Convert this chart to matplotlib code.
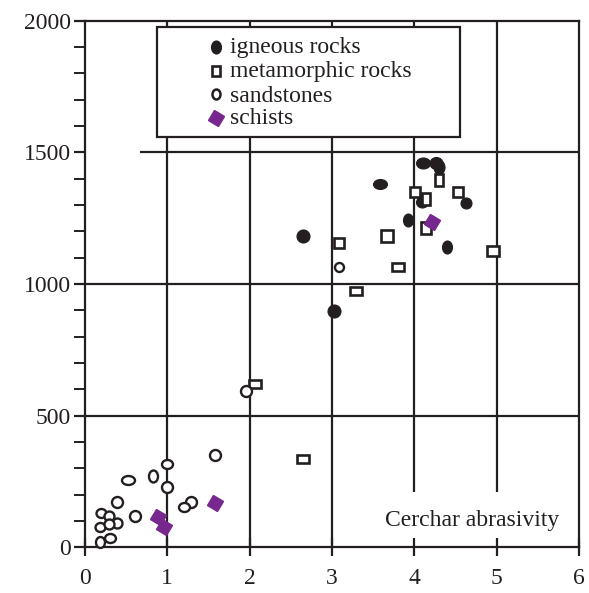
import matplotlib
matplotlib.use('Agg')
import matplotlib.pyplot as plt
from matplotlib.markers import MarkerStyle
from matplotlib.transforms import Affine2D
from matplotlib.patches import Rectangle
from matplotlib.ticker import MultipleLocator

plt.rcParams['font.family'] = ['Liberation Serif', 'DejaVu Serif']

INK = '#231f20'
PURPLE = '#77288f'

# ---- data (Cerchar abrasivity vs. value) ----
igneous_x = [4.10, 4.26, 4.30, 3.58, 4.09, 4.63, 3.92, 4.40, 2.65, 3.03]
igneous_y = [1461, 1458, 1445, 1380, 1310, 1309, 1243, 1142, 1182, 897]

metamorphic_x = [4.30, 4.01, 4.14, 4.53, 4.14, 3.67, 3.08, 4.96, 3.80, 3.29, 2.07, 2.65]
metamorphic_y = [1395, 1348, 1324, 1348, 1212, 1182, 1157, 1125, 1066, 975, 619, 335]

sandstone_x = [3.08, 1.96, 1.58, 1.00, 0.52, 0.82, 1.00, 0.39, 1.29, 1.20, 0.61,
               0.19, 0.29, 0.39, 0.18, 0.29, 0.30, 0.18]
sandstone_y = [1066, 594, 352, 316, 256, 271, 230, 171, 171, 152, 119,
               131, 119, 91, 76, 88, 34, 21]

schist_x = [4.21, 0.89, 0.96, 1.58]
schist_y = [1237, 114, 78, 167]

legend_labels = ['igneous rocks', 'metamorphic rocks', 'sandstones', 'schists']
x_ticks = [0, 1, 2, 3, 4, 5, 6]
y_ticks = [0, 500, 1000, 1500, 2000]
axis_caption = 'Cerchar abrasivity'

# ---- marker shapes (style only, width x height in px) ----
igneous_wh = [(14, 11), (13, 12), (11, 14), (14, 10), (12, 11), (11, 11), (10, 13), (10, 13), (13, 13), (13, 13)]
metamorphic_wh = [(9, 13), (10, 10), (9, 13), (10, 10), (10, 12), (13, 13), (10, 10), (13, 10), (13, 9), (13, 9), (12, 9), (12, 9)]
sandstone_wh = [(9, 9), (11, 11), (11, 11), (11, 9), (13, 9), (9, 12), (11, 11), (11, 11), (11, 11), (11, 9), (11, 11),
                (10, 9), (10, 10), (10, 10), (10, 9), (10, 10), (11, 9), (9, 11)]

PX = 0.72  # points per pixel at dpi 100

fig = plt.figure(figsize=(5.89, 5.93), dpi=100)
ax = fig.add_axes([85 / 589, 45.7 / 593, 494 / 589, 526.6 / 593])
ax.set_xlim(0, 6)
ax.set_ylim(0, 2000)

for s in ax.spines.values():
    s.set_color(INK)
    s.set_linewidth(1.6)

# grid segments
glw = 1.6
for xv in [1, 2, 3]:
    ax.plot([xv, xv], [0, 2000], color=INK, lw=glw, zorder=1, solid_capstyle='butt')
for xv in [4, 5]:
    ax.plot([xv, xv], [210, 2000], color=INK, lw=glw, zorder=1, solid_capstyle='butt')
for yv in [500, 1000]:
    ax.plot([0, 6], [yv, yv], color=INK, lw=glw, zorder=1, solid_capstyle='butt')
ax.plot([0.668, 6], [1500, 1500], color=INK, lw=glw, zorder=1, solid_capstyle='butt')


def shaped(marker, w, h, base):
    return MarkerStyle(marker, transform=Affine2D().scale(w / base, h / base))


# igneous: filled ellipses
for x, y, (w, h) in zip(igneous_x, igneous_y, igneous_wh):
    ax.plot([x], [y], linestyle='none', marker=shaped('o', w, h, 12), ms=12 * PX,
            mfc=INK, mec=INK, mew=0.8, zorder=4, clip_on=False)

# metamorphic: open rectangles
for x, y, (w, h) in zip(metamorphic_x, metamorphic_y, metamorphic_wh):
    ax.plot([x], [y], linestyle='none', marker=shaped('s', w, h, 10), ms=10 * PX,
            mfc='white', mec=INK, mew=1.9, zorder=4, clip_on=False)

# sandstones: open ellipses
for x, y, (w, h) in zip(sandstone_x, sandstone_y, sandstone_wh):
    ax.plot([x], [y], linestyle='none', marker=shaped('o', w, h, 10), ms=10 * PX,
            mfc='white', mec=INK, mew=1.7, zorder=4, clip_on=False)

# schists: purple diamonds
dia = MarkerStyle('D', transform=Affine2D().rotate_deg(12))
ax.plot(schist_x, schist_y, linestyle='none', marker=dia, ms=8.2, mfc=PURPLE, mec=PURPLE,
        mew=1.0, zorder=5, clip_on=False)

# ticks
ax.xaxis.set_major_locator(plt.FixedLocator(x_ticks))
ax.yaxis.set_major_locator(plt.FixedLocator(y_ticks))
ax.yaxis.set_minor_locator(MultipleLocator(100))
ax.tick_params(axis='x', which='major', direction='inout', length=12.5, width=1.6,
               color=INK, labelsize=17, labelcolor=INK, pad=9, top=False)
ax.tick_params(axis='y', which='major', direction='out', length=8, width=1.6,
               color=INK, labelsize=17, labelcolor=INK, pad=2, right=False)
ax.tick_params(axis='y', which='minor', direction='out', length=8, width=1.4,
               color=INK, right=False)
ax.set_xticklabels([str(v) for v in x_ticks])
ax.set_yticklabels([str(v) for v in y_ticks])

# legend box drawn manually
box = Rectangle((0.1464, 0.7797), 0.759 - 0.1464, 0.9875 - 0.7797, transform=ax.transAxes,
                facecolor='white', edgecolor=INK, lw=1.6, zorder=6)
ax.add_patch(box)
leg_markers = [
    dict(marker=shaped('o', 10, 13, 12), ms=12 * PX, mfc=INK, mec=INK, mew=0.8),
    dict(marker=shaped('s', 8, 10, 10), ms=10 * PX, mfc='white', mec=INK, mew=1.9),
    dict(marker=shaped('o', 8, 10, 10), ms=10 * PX, mfc='white', mec=INK, mew=1.8),
    dict(marker=MarkerStyle('D', transform=Affine2D().rotate_deg(12)), ms=8.0, mfc=PURPLE, mec=PURPLE, mew=1.0),
]
row_marker_y = [0.9506, 0.9050, 0.8608, 0.8147]
row_base_y = [0.9381, 0.8925, 0.8462, 0.8033]
for lab, mk, my, by in zip(legend_labels, leg_markers, row_marker_y, row_base_y):
    ax.plot([0.2646], [my], linestyle='none', transform=ax.transAxes, zorder=7, clip_on=False, **mk)
    ax.text(0.2935, by, lab, transform=ax.transAxes, fontsize=17, color=INK,
            ha='left', va='baseline', zorder=7)

ax.text(0.607, 0.0404, axis_caption, transform=ax.transAxes, fontsize=17, color=INK,
        ha='left', va='baseline', zorder=7)

fig.savefig('out.png', dpi=100, facecolor='white')
